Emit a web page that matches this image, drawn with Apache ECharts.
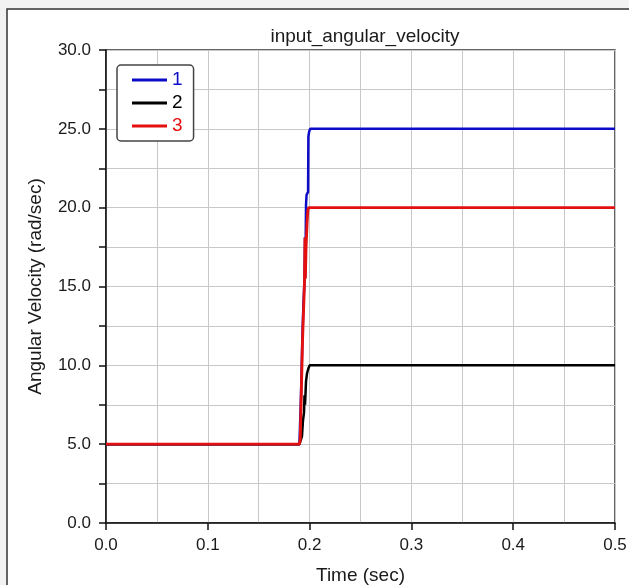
<!DOCTYPE html>
<html>
<head>
<meta charset="utf-8">
<script src="https://cdn.jsdelivr.net/npm/echarts@6/dist/echarts.min.js"></script>
<style>
html,body{margin:0;padding:0;background:#f2f2f2;}
#c{width:629px;height:585px;}
</style>
</head>
<body>
<div id="c"></div>
<script>
// Data
const seriesNames = ['1', '2', '3'];
const xTickLabels = ['0.0', '0.1', '0.2', '0.3', '0.4', '0.5'];
const yTickLabels = ['0.0', '5.0', '10.0', '15.0', '20.0', '25.0', '30.0'];

const time1 = [0, 0.190, 0.1915, 0.1930, 0.1940, 0.1950, 0.1955, 0.1958, 0.1965, 0.1970, 0.1985, 0.1988, 0.1995, 0.2005, 0.5];
const vel1  = [5, 5.0,   8.0,    12.0,   14.0,   15.4,   18.1,   15.6,   20.2,   20.8,   21.0,   24.5,   24.8,   25.0,   25.0];

const time2 = [0, 0.190, 0.1925, 0.1935, 0.1945, 0.1950, 0.1955, 0.1965, 0.1975, 0.1988, 0.2000, 0.5];
const vel2  = [5, 5.0,   5.5,    6.5,    7.0,    8.1,    7.5,    9.0,    9.5,    9.8,    10.0,   10.0];

const time3 = [0, 0.1900, 0.1908, 0.1930, 0.1950, 0.1955, 0.1958, 0.1965, 0.1975, 0.1982, 0.1990, 0.5];
const vel3  = [5, 5.0,    5.3,    11.5,   15.3,   18.1,   15.5,   17.5,   19.0,   19.8,   20.0,   20.0];

const colors = ['#0c0cc8', '#000000', '#e41010'];
const widths = [2.5, 2.5, 2.9];

const pairs = (t, v) => t.map((x, i) => [x, v[i]]);
const seriesData = [pairs(time1, vel1), pairs(time2, vel2), pairs(time3, vel3)];

const chart = echarts.init(document.getElementById('c'), null, {renderer: 'canvas'});
const font = 'Liberation Sans, Arial, sans-serif';

chart.setOption({
  animation: false,
  backgroundColor: '#f2f2f2',
  graphic: [{
    type: 'rect',
    z: -10,
    shape: {x: 7, y: 9, width: 700, height: 700},
    style: {fill: '#ffffff', stroke: '#333333', lineWidth: 1.5}
  }],
  title: {
    text: 'input_angular_velocity',
    left: 360,
    top: 22,
    textAlign: 'center',
    textStyle: {fontFamily: font, fontSize: 19, fontWeight: 'normal', color: '#1a1a1a'}
  },
  legend: {
    orient: 'vertical',
    left: 117,
    top: 65,
    padding: [5, 11, 5, 15],
    itemGap: 3,
    itemWidth: 35,
    itemHeight: 2.8,
    icon: 'rect',
    backgroundColor: '#ffffff',
    borderColor: '#444',
    borderWidth: 1.5,
    borderRadius: 4,
    textStyle: {fontFamily: font, fontSize: 19, lineHeight: 20},
    data: seriesNames.map((n, i) => ({name: n, textStyle: {color: colors[i]}}))
  },
  grid: {
    left: 106, right: 14, top: 50, bottom: 62,
    outerBoundsMode: 'none',
    containLabel: false,
    show: true, borderColor: '#333', borderWidth: 1.5, backgroundColor: '#ffffff'
  },
  xAxis: {
    type: 'value',
    min: 0, max: 0.5, interval: 0.1,
    name: 'Time (sec)',
    nameLocation: 'middle',
    nameGap: 43,
    nameTextStyle: {fontFamily: font, fontSize: 19, color: '#1a1a1a'},
    axisLine: {show: true, lineStyle: {color: '#111', width: 1.5}},
    axisTick: {show: true, length: 7, lineStyle: {color: '#111', width: 1.5}},
    minorTick: {show: false, splitNumber: 2},
    splitLine: {show: true, lineStyle: {color: '#c8c8c8', width: 1}},
    minorSplitLine: {show: true, lineStyle: {color: '#c8c8c8', width: 1}},
    axisLabel: {
      fontFamily: font, fontSize: 17, color: '#1a1a1a', margin: 14,
      formatter: (v) => xTickLabels[Math.round(v * 10)]
    }
  },
  yAxis: {
    type: 'value',
    min: 0, max: 30, interval: 5,
    name: 'Angular Velocity (rad/sec)',
    nameLocation: 'middle',
    nameGap: 61,
    nameTextStyle: {fontFamily: font, fontSize: 19, color: '#1a1a1a'},
    axisLine: {show: true, lineStyle: {color: '#111', width: 1.5}},
    axisTick: {show: true, length: 7, lineStyle: {color: '#111', width: 1.5}},
    minorTick: {show: true, splitNumber: 2, length: 7, lineStyle: {color: '#111', width: 1.5}},
    splitLine: {show: true, lineStyle: {color: '#c8c8c8', width: 1}},
    minorSplitLine: {show: true, lineStyle: {color: '#c8c8c8', width: 1}},
    axisLabel: {
      fontFamily: font, fontSize: 17, color: '#1a1a1a', margin: 15,
      formatter: (v) => yTickLabels[Math.round(v / 5)]
    }
  },
  series: seriesNames.map((n, i) => ({
    name: n,
    type: 'line',
    data: seriesData[i],
    showSymbol: false,
    symbol: 'none',
    color: colors[i],
    lineStyle: {color: colors[i], width: widths[i]},
    z: 2 + i
  }))
});
</script>
</body>
</html>
